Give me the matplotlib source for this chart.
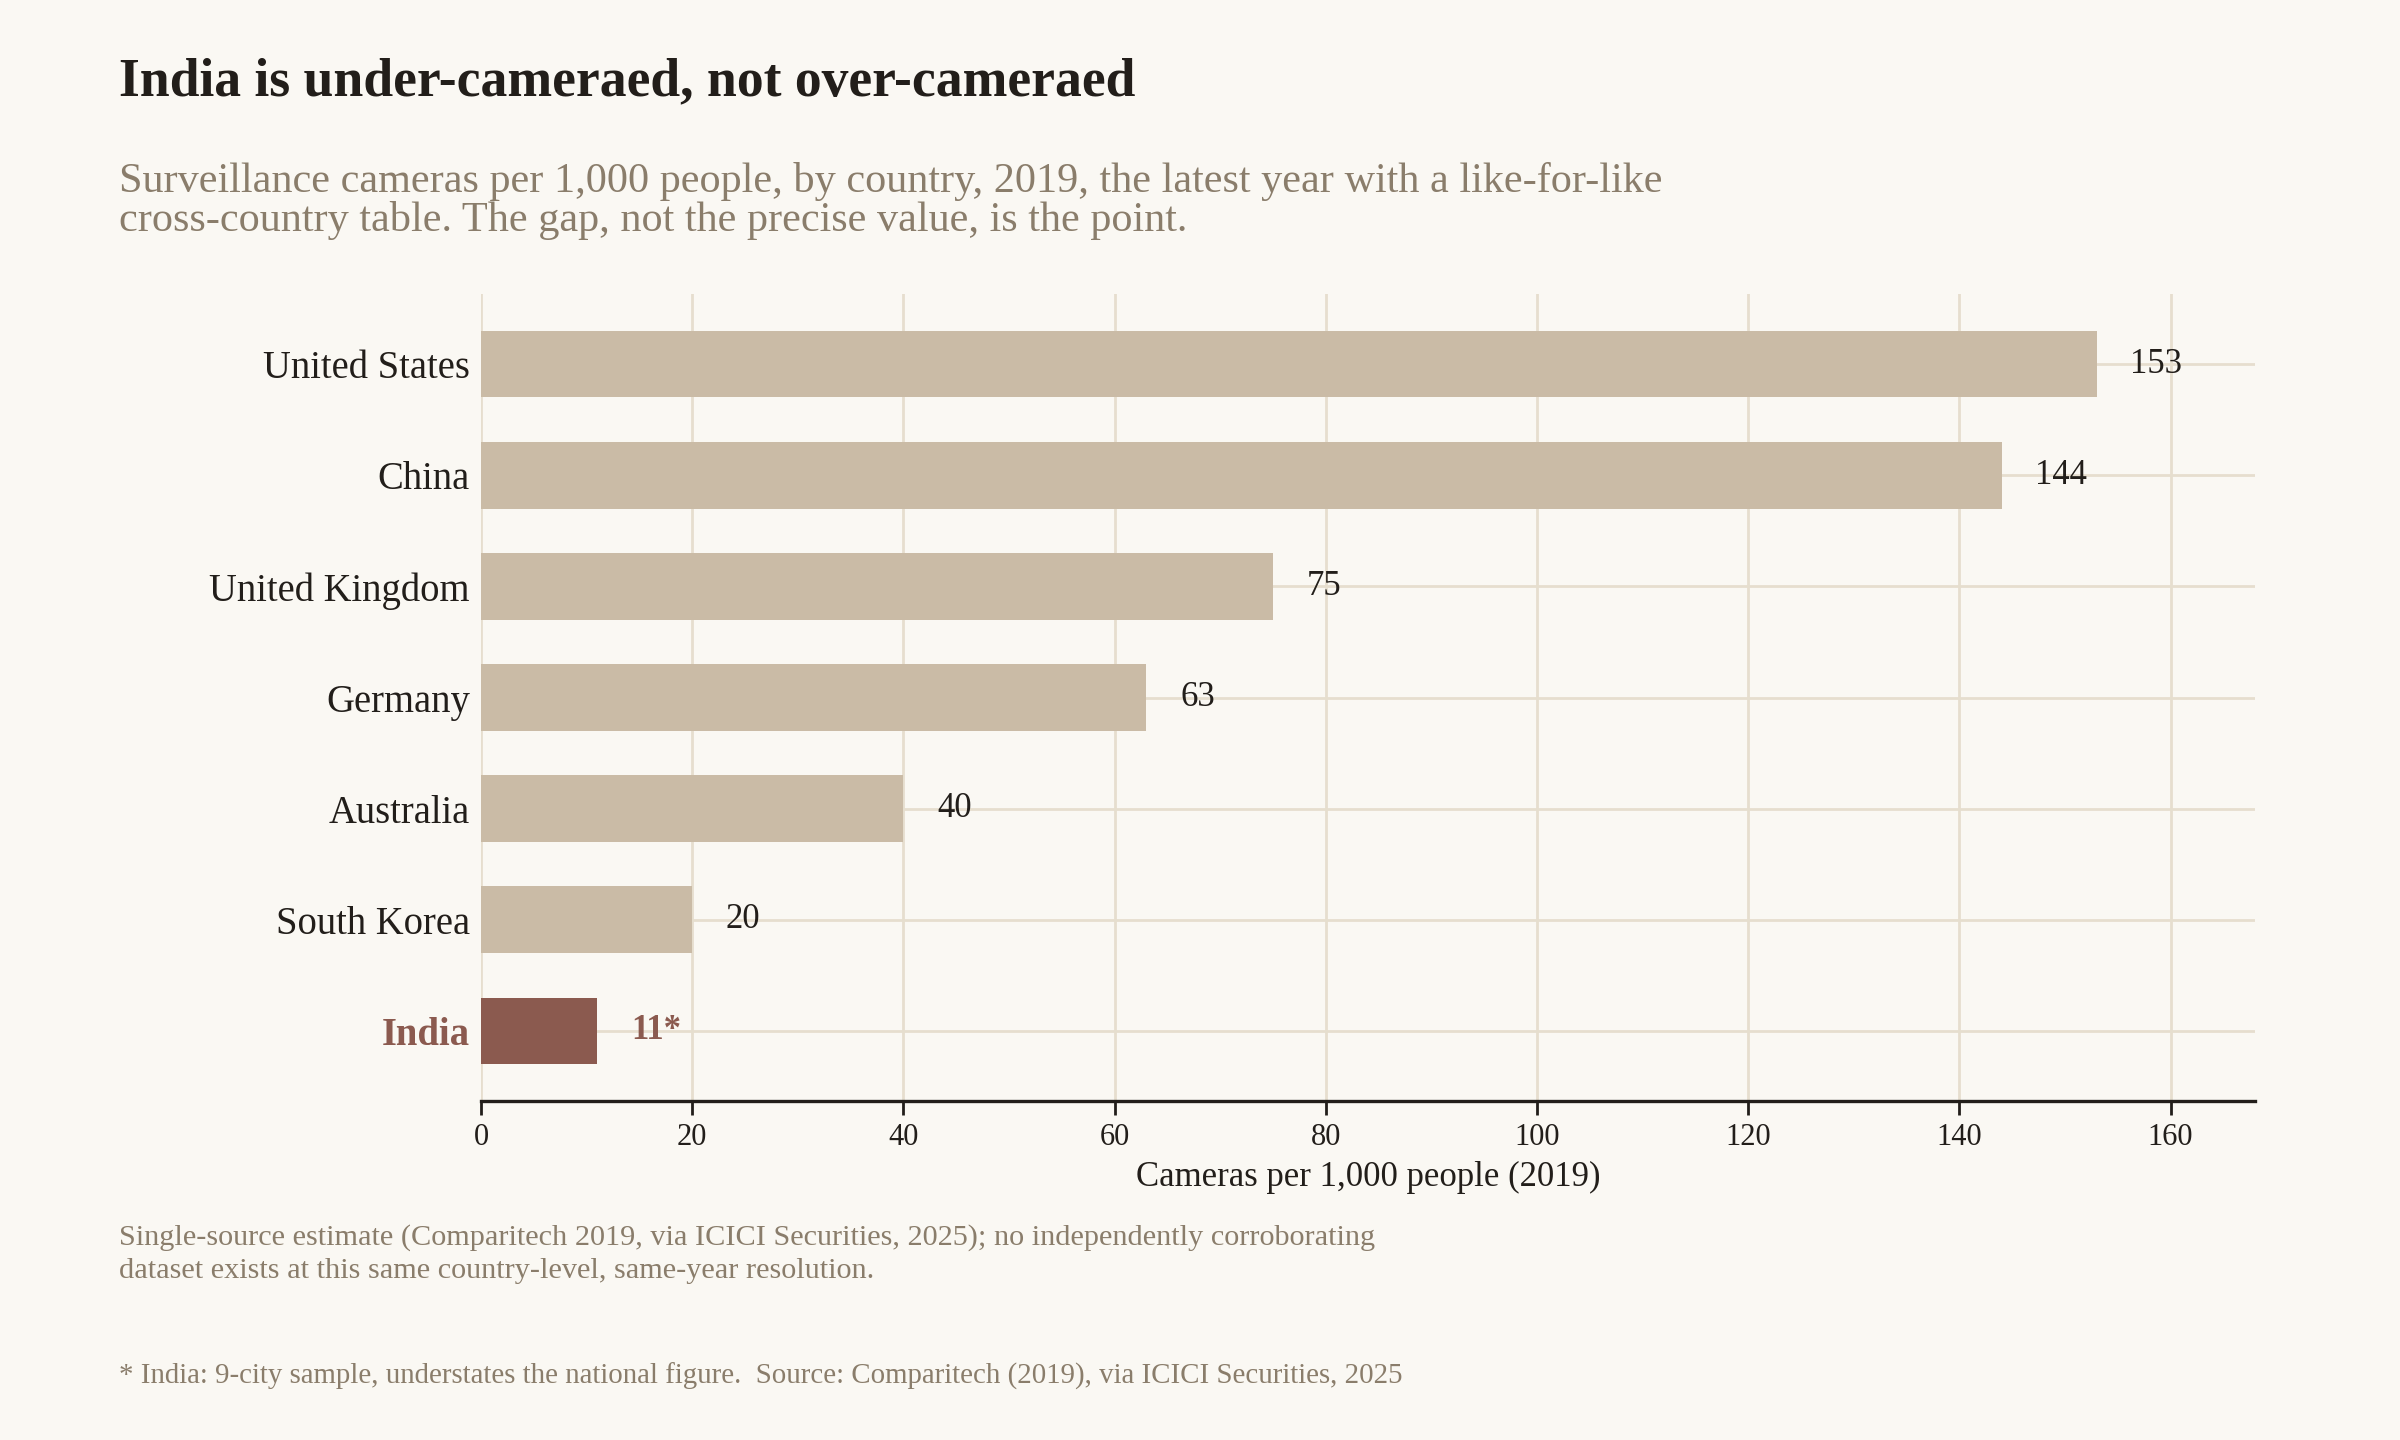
import matplotlib
matplotlib.use("Agg")
import matplotlib.pyplot as plt

countries = ["United States", "China", "United Kingdom", "Germany", "Australia", "South Korea", "India"]
values = [153, 144, 75, 63, 40, 20, 11]
value_labels = ["153", "144", "75", "63", "40", "20", "11*"]
highlight = "India"
xticks = [0, 20, 40, 60, 80, 100, 120, 140, 160]

title = "India is under-cameraed, not over-cameraed"
subtitle = ["Surveillance cameras per 1,000 people, by country, 2019, the latest year with a like-for-like",
            "cross-country table. The gap, not the precise value, is the point."]
note = ["Single-source estimate (Comparitech 2019, via ICICI Securities, 2025); no independently corroborating",
        "dataset exists at this same country-level, same-year resolution."]
footer = "* India: 9-city sample, understates the national figure.  Source: Comparitech (2019), via ICICI Securities, 2025"
xlabel = "Cameras per 1,000 people (2019)"

BG = "#faf8f3"
BAR = "#cabba6"
HI = "#8b5a4f"
INK = "#221e1a"
MUTED = "#8a7d6b"
GRID = "#e6dece"

plt.rcParams["font.family"] = ["Liberation Serif", "DejaVu Serif"]

fig = plt.figure(figsize=(12, 7.2), dpi=200, facecolor=BG)
ax = fig.add_axes([0.2004, 0.2354, 0.9396 - 0.2004, 0.7958 - 0.2354])
ax.set_facecolor(BG)

ypos = list(range(len(countries)))
colors = [HI if c == highlight else BAR for c in countries]
ax.barh(ypos, values, height=0.6, color=colors, zorder=3)

ax.set_xlim(0, 168)
ax.set_ylim(len(countries) - 1 + 0.63, -0.63)
ax.set_xticks(xticks)
ax.set_xticklabels([str(t) for t in xticks], fontsize=11, color=INK)
ax.set_yticks(ypos)
ax.set_yticklabels(countries, fontsize=13.9, color=INK)
for lab in ax.get_yticklabels():
    if lab.get_text() == highlight:
        lab.set_color(HI)
        lab.set_fontweight("bold")

ax.tick_params(axis="y", length=0, pad=4)
ax.tick_params(axis="x", length=5, width=1.0, color=INK, pad=3)
ax.grid(True, axis="both", color=GRID, linewidth=1.0, zorder=0)
ax.set_axisbelow(True)
for s in ["top", "right", "left"]:
    ax.spines[s].set_visible(False)
ax.spines["bottom"].set_color(INK)
ax.spines["bottom"].set_linewidth(1.2)
ax.set_xlabel(xlabel, fontsize=12.5, color=INK, labelpad=3)

for y, v, lab, c in zip(ypos, values, value_labels, countries):
    hi = c == highlight
    ax.text(v + 3.2, y, lab, va="center", ha="left", fontsize=12.5,
            fontweight="bold" if hi else "normal", color=HI if hi else INK, zorder=4)

fig.text(0.0496, 0.934, title, fontsize=19.3, fontweight="bold", color=INK, va="baseline")
fig.text(0.0496, 0.867, subtitle[0], fontsize=15.2, color=MUTED, va="baseline")
fig.text(0.0496, 0.8395, subtitle[1], fontsize=15.2, color=MUTED, va="baseline")
fig.text(0.0496, 0.1355, note[0], fontsize=10.9, color=MUTED, va="baseline")
fig.text(0.0496, 0.1125, note[1], fontsize=10.9, color=MUTED, va="baseline")
fig.text(0.0496, 0.0390, footer, fontsize=10.4, color=MUTED, va="baseline")

fig.savefig("out.png", dpi=200, facecolor=BG)
